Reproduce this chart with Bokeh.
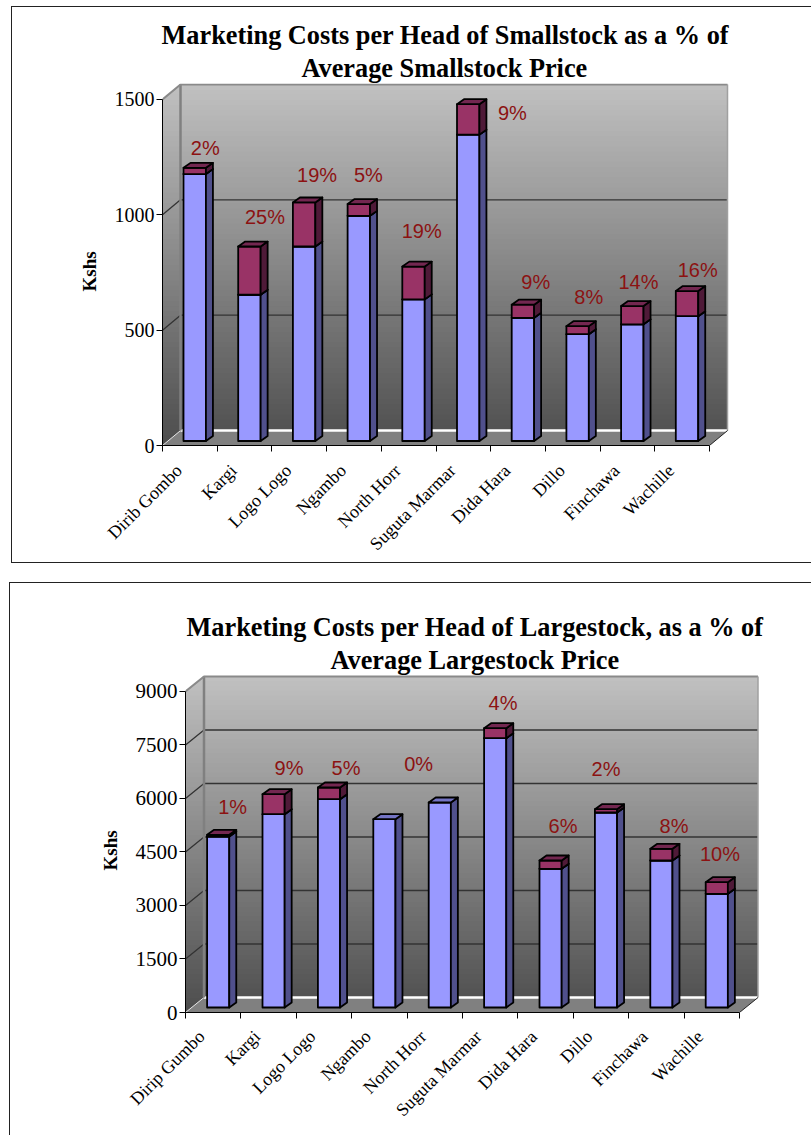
from bokeh.plotting import figure
from bokeh.layouts import column
from bokeh.models import FixedTicker, Range1d, Title, ColumnDataSource
from bokeh.core.properties import value
from bokeh.embed import file_html
from bokeh.resources import INLINE

# ---- data ----
small_names = ["Dirib Gombo", "Kargi", "Logo Logo", "Ngambo", "North Horr",
               "Suguta Marmar", "Dida Hara", "Dillo", "Finchawa", "Wachille"]
small_base = [1157, 634, 843, 976, 614, 1328, 534, 463, 506, 541]
small_total = [1184, 843, 1034, 1027, 756, 1460, 591, 498, 585, 650]
small_pct = ["2%", "25%", "19%", "5%", "19%", "9%", "9%", "8%", "14%", "16%"]
small_ticks = [0, 500, 1000, 1500]

large_names = ["Dirip Gumbo", "Kargi", "Logo Logo", "Ngambo", "North Horr",
               "Suguta Marmar", "Dida Hara", "Dillo", "Finchawa", "Wachille"]
large_base = [4794, 5419, 5840, 5279, 5747, 7550, 3888, 5467, 4121, 3188]
large_total = [4842, 5980, 6168, 5279, 5747, 7830, 4121, 5559, 4449, 3513]
large_pct = ["1%", "9%", "5%", "0%", "", "4%", "6%", "2%", "8%", "10%"]
large_ticks = [0, 1500, 3000, 4500, 6000, 7500, 9000]

# ---- label nudges (screen px, relative to bar top centre) ----
small_dx = [10.5, 15.5, 13, 9.6, 8.2, 44.2, 12.8, 11.1, 6.1, 10.7]
small_dy = [-20, -30, -27.7, -29.3, -36, 9.3, -22.6, -29.3, -24, -20.7]
large_dx = [14.5, 15.4, 17, 34.3, 0, 7.8, 12.4, 0, 12.6, 3.2]
large_dy = [-27.3, -26, -19.3, -54.7, 0, -25, -35, -40.7, -22.6, -27.7]

SERIF = "Liberation Serif"
SANS = "Liberation Sans"
BLUE, BLUE_SIDE, BLUE_TOP = "#9999ff", "#50508c", "#7474c4"
RED, RED_SIDE, RED_TOP = "#993366", "#4f1a38", "#732750"


def lerp_grey(t):
    g = int(round(0xc0 + (0x4c - 0xc0) * t))
    return f"#{g:02x}{g:02x}{g:02x}"


def chart(names, base, total, pct, ticks, dxs, dys, titles, cfg):
    sx, sy = cfg["px_cat"], cfg["px_unit"]
    ymax = ticks[-1]
    n = len(names)
    dep_x, dep_y = cfg["depth_x"] / sx, cfg["depth_y"] / sy
    frame_h = cfg["height"] - cfg["top"] - cfg["bottom"]
    frame_w = cfg["width"] - cfg["left"] - cfg["right"]
    p = figure(width=cfg["width"], height=cfg["height"], output_backend="svg",
               toolbar_location=None, tools="", frame_align=False,
               x_range=Range1d(0, frame_w / sx), y_range=Range1d(0, frame_h / sy),
               min_border_left=cfg["left"], min_border_right=cfg["right"],
               min_border_top=cfg["top"], min_border_bottom=cfg["bottom"],
               background_fill_color="white", border_fill_color="white",
               margin=cfg["margin"], styles=cfg["css"])
    p.outline_line_color = None
    p.grid.visible = False

    top = ymax + dep_y
    steps = 70
    xs_l, ys_l, cols_l, xs_b, ys_b, cols_b = [], [], [], [], [], []
    for k in range(steps):
        t = k / steps
        y = top * (1 - t)
        c = lerp_grey(t)
        if y >= dep_y:
            xl = max(0.0, (y - ymax) / dep_y * dep_x)
            xs_l.append([xl, dep_x, dep_x, 0, 0])
            ys_l.append([y, y, dep_y, 0, min(y, ymax)])
            xs_b.append([dep_x, n + dep_x, n + dep_x, dep_x])
            ys_b.append([y, y, dep_y, dep_y])
            cols_b.append(c)
        else:
            xs_l.append([0, y / dep_y * dep_x, 0])
            ys_l.append([y, y, 0])
        cols_l.append(c)
    p.patches(xs_l, ys_l, fill_color=cols_l, line_color=None)
    p.patches(xs_b, ys_b, fill_color=cols_b, line_color=None)
    p.patch([0, n, n + dep_x, dep_x], [0, 0, dep_y, dep_y], fill_color="#808080", line_color=None)
    for v in ticks[1:-1]:
        p.line([0, dep_x, n + dep_x], [v, v + dep_y, v + dep_y], line_color="#333333", line_width=1.3)
    p.line([dep_x, n + dep_x], [dep_y, dep_y], line_color="white", line_width=2.5)
    p.line([0, dep_x], [0, dep_y], line_color="#e8e8e8", line_width=1)
    p.line([dep_x, dep_x], [dep_y, top], line_color="#808080", line_width=2.5)
    p.line([0, dep_x, n + dep_x], [ymax, top, top], line_color="#8a8a8a", line_width=2)
    p.line([n + dep_x, n + dep_x], [top, dep_y], line_color="#a0a0a0", line_width=1.5)
    p.line([n, n + dep_x], [0, dep_y], line_color="#222222", line_width=1)

    off, w = cfg["bar_off"], cfg["bar_w"]
    lift = cfg["bar_lift"] / sy
    bx, by = cfg["bar_dx"] / sx, cfg["bar_dy"] / sy
    for i in range(n):
        l, r = i + off, i + off + w
        segs = [(lift, lift + base[i], BLUE, BLUE_SIDE, BLUE_TOP)]
        if total[i] > base[i]:
            segs.append((lift + base[i], lift + total[i], RED, RED_SIDE, RED_TOP))
        for y0, y1, front, side, cap in segs:
            src = ColumnDataSource(dict(
                xs=[[l, r, r, l], [r, r + bx, r + bx, r], [l, r, r + bx, l + bx]],
                ys=[[y0, y0, y1, y1], [y0, y0 + by, y1 + by, y1], [y1, y1, y1 + by, y1 + by]],
                c=[front, side, cap]))
            p.patches("xs", "ys", source=src, fill_color="c", line_color="black",
                      line_width=1.8, line_join="round")

    p.text([i + off + w / 2 for i in range(n)], [lift + v for v in total],
           text=pct, x_offset=dxs, y_offset=dys,
           text_font=value(SANS), text_font_size="20px", text_color="#8c1212",
           text_align="center", text_baseline="middle")

    xa, ya = p.xaxis[0], p.yaxis[0]
    label_at = [round(i + cfg["label_shift"], 2) for i in range(n)]
    xa.bounds = (0, n)
    xa.ticker = FixedTicker(ticks=label_at, minor_ticks=list(range(n + 1)))
    xa.major_label_overrides = {label_at[i]: names[i] for i in range(n)}
    xa.major_label_orientation = 0.785398
    xa.major_label_standoff = cfg["x_standoff"]
    xa.major_tick_out = 0
    xa.major_tick_in = 0
    xa.minor_tick_out = 6
    xa.minor_tick_in = 0
    xa.minor_tick_line_color = "black"
    xa.major_label_text_font = SERIF
    xa.major_label_text_font_size = cfg["x_font"]
    xa.major_label_text_color = "black"
    xa.axis_line_color = "black"
    ya.bounds = (0, ymax)
    ya.ticker = FixedTicker(ticks=ticks)
    ya.minor_tick_line_color = None
    ya.major_tick_out = 6
    ya.major_tick_in = 0
    ya.major_tick_line_color = "black"
    ya.axis_line_color = "black"
    ya.major_label_standoff = 2
    ya.major_label_text_font = SERIF
    ya.major_label_text_font_size = cfg["y_font"]
    ya.major_label_text_color = "black"

    p.add_layout(Title(text="Kshs", align="left", offset=cfg["kshs_offset"], standoff=cfg["kshs_standoff"],
                       text_font=SERIF, text_font_style="bold", text_font_size="19px",
                       text_color="black"), "left")

    for line, sa, oa in reversed(list(zip(titles, cfg["title_standoff"], cfg["title_offset"]))):
        p.add_layout(Title(text=line, align="left", offset=oa, text_font=SERIF, text_font_style="bold",
                           text_font_size=cfg["title_font"], text_color="black", standoff=sa), "above")
    return p


line = "1.5px solid #222222"
cfg1 = dict(width=800, height=557, left=150, right=79, top=76, bottom=117,
            margin=(6, 0, 0, 11), css={"border-top": line, "border-left": line, "border-bottom": line},
            px_cat=54.7, px_unit=0.232, depth_x=18, depth_y=15,
            bar_off=0.384, bar_w=0.41, bar_lift=4.5, bar_dx=7, bar_dy=5, label_shift=0.3,
            x_standoff=16, x_font="18px", y_font="20px", kshs_offset=154, kshs_standoff=24,
            title_font="26.3px", title_standoff=[2, 2], title_offset=[-1, 139])
cfg2 = dict(width=802, height=553, left=175, right=51, top=90, bottom=124,
            margin=(19, 0, 0, 9), css={"border-top": line, "border-left": line},
            px_cat=55.4, px_unit=0.03567, depth_x=18.5, depth_y=15,
            bar_off=0.39, bar_w=0.40, bar_lift=5, bar_dx=7, bar_dy=5, label_shift=0.29,
            x_standoff=15, x_font="18px", y_font="21px", kshs_offset=142, kshs_standoff=24,
            title_font="26.3px", title_standoff=[5, -2], title_offset=[1, 145])

p1 = chart(small_names, small_base, small_total, small_pct, small_ticks, small_dx, small_dy,
           ["Marketing Costs per Head of Smallstock as a % of", "Average Smallstock Price"], cfg1)
p2 = chart(large_names, large_base, large_total, large_pct, large_ticks, large_dx, large_dy,
           ["Marketing Costs per Head of Largestock, as a % of", "Average Largestock Price"], cfg2)

page = column(p1, p2, spacing=0)
open("out.html", "w").write(file_html(page, INLINE))
